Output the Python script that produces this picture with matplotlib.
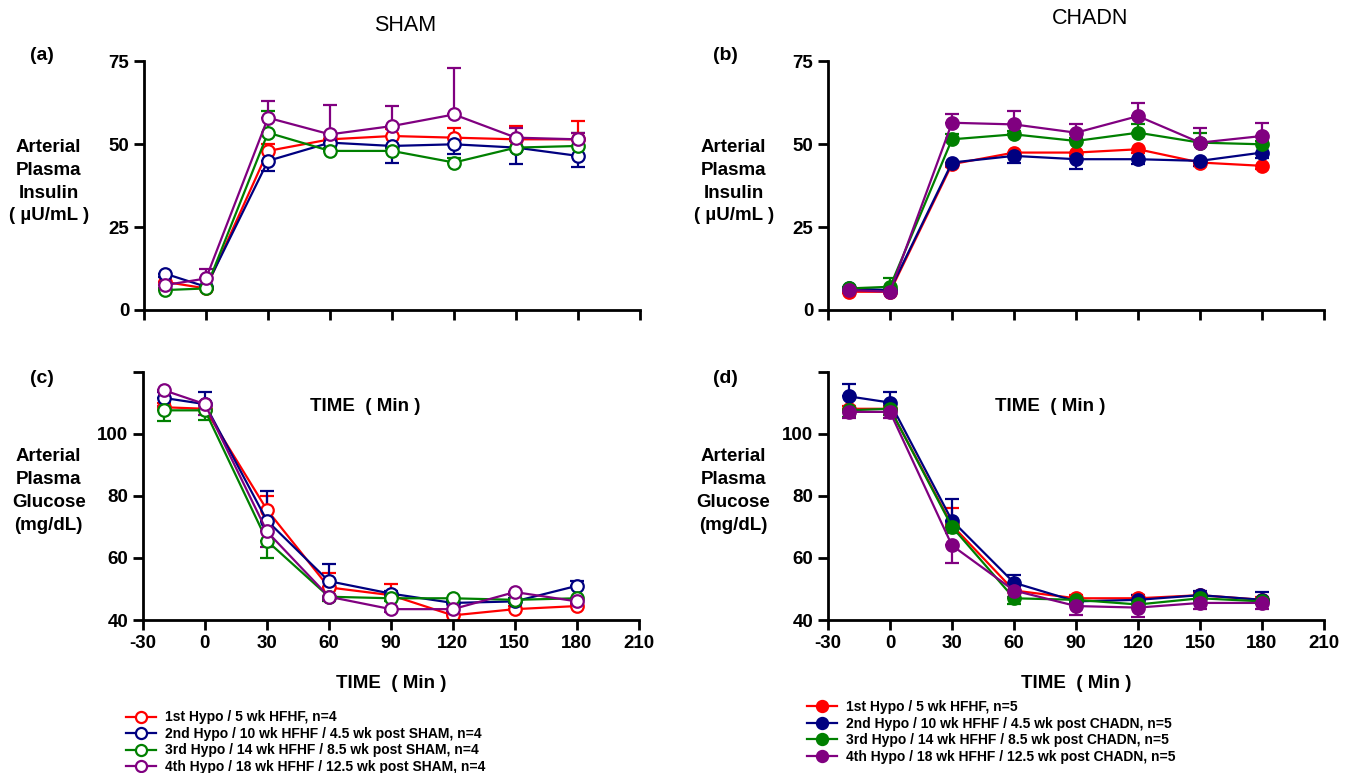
"""Insulin and glucose during hypoglycemic clamps, SHAM vs CHADN"""

import matplotlib
matplotlib.use('Agg')
import matplotlib.pyplot as plt
from matplotlib.lines import Line2D
import numpy as np

plt.rcParams['font.family'] = ['Liberation Sans', 'DejaVu Sans']
plt.rcParams['font.weight'] = 'bold'
plt.rcParams['axes.unicode_minus'] = False

time_min = [-20, 0, 30, 60, 90, 120, 150, 180]
colors = ['#ff0000', '#000080', '#008000', '#800080']

sham_labels = ['1st Hypo / 5 wk HFHF, n=4',
               '2nd Hypo / 10 wk HFHF / 4.5 wk post SHAM, n=4',
               '3rd Hypo / 14 wk HFHF / 8.5 wk post SHAM, n=4',
               '4th Hypo / 18 wk HFHF / 12.5 wk post SHAM, n=4']
chadn_labels = ['1st Hypo / 5 wk HFHF, n=5',
                '2nd Hypo / 10 wk HFHF / 4.5 wk post CHADN, n=5',
                '3rd Hypo / 14 wk HFHF / 8.5 wk post CHADN, n=5',
                '4th Hypo / 18 wk HFHF / 12.5 wk post CHADN, n=5']

# SHAM insulin (uU/mL)
sham_ins = [[8.5, 6.5, 48, 51.5, 52.5, 52, 51.5, 51.5],
            [11, 7, 45, 50.5, 49.5, 50, 49, 46.5],
            [6, 6.5, 53.5, 48, 48, 44.5, 49, 49.5],
            [7.5, 9.5, 58, 53, 55.5, 59, 52, 51.5]]
sham_ins_sem = [[1.5, 0.5, 2, 2, 2, 3, 4, 5.5],
                [1, 0.5, 3, 2, 5, 3, 5, 3.5],
                [0.5, 0.5, 6.5, 1, 1, 1.5, 2, 4],
                [1, 3, 5, 9, 6, 14, 3, 2]]
sham_ins_side = ['up', 'down', 'up', 'up']

# SHAM glucose (mg/dL)
sham_glu = [[108.5, 108, 75.5, 50.5, 48, 41.5, 43.5, 44.5],
            [111.5, 109.5, 72, 52.5, 48.5, 45.5, 46, 51],
            [107.5, 107.5, 65.5, 47.5, 47, 47, 46.5, 47],
            [114, 109.5, 68.5, 47.5, 43.5, 43.5, 49, 46]]
sham_glu_sem = [[1.5, 1.5, 4.5, 4.5, 3.5, 1, 1, 1],
                [2, 4, 9.5, 5.5, 1, 1, 1, 1.5],
                [3.5, 3, 5.5, 1.5, 1, 1, 1, 1],
                [5, 3.5, 5, 1, 1, 1, 1, 1]]
sham_glu_side = ['up', 'up', 'down', 'down']

# CHADN insulin (uU/mL)
chadn_ins = [[5.5, 5.5, 44, 47.5, 47.5, 48.5, 44.5, 43.5],
             [6.5, 6, 44.5, 46.5, 45.5, 45.5, 45, 47.5],
             [6.5, 7, 51.5, 53, 51, 53.5, 50.5, 50],
             [6, 5.5, 56.5, 56, 53.5, 58.5, 50.5, 52.5]]
chadn_ins_sem = [[0.5, 0.5, 1, 1, 1, 1, 1, 1],
                 [0.5, 0.5, 1, 2, 3, 1.5, 1.5, 1.5],
                 [0.5, 2.5, 1.5, 1, 1, 2.5, 3, 1],
                 [0.5, 0.5, 2.5, 4, 2.5, 4, 4.5, 4]]
chadn_ins_side = ['down', 'down', 'up', 'up']

# CHADN glucose (mg/dL)
chadn_glu = [[108, 108, 70.5, 49.5, 47, 47, 48, 46.5],
             [112, 110, 72, 52, 46, 46.5, 48, 46.5],
             [107.5, 108, 70, 47, 46.5, 45, 47, 46],
             [107, 107, 64, 49.5, 44.5, 44, 45.5, 45.5]]
chadn_glu_sem = [[1, 1, 5.5, 1.5, 1, 1, 1, 1],
                 [4, 3.5, 7, 2.5, 1.5, 1.5, 1.5, 2.5],
                 [2, 2, 2, 2, 1, 1, 1, 1],
                 [2, 2, 5.5, 2, 3, 3, 2, 2]]
chadn_glu_side = ['up', 'up', 'down', 'down']


def draw_panel(ax, series, sems, sides, labels, filled):
    for vals, sem, side, col, lab in zip(series, sems, sides, colors, labels):
        sem = np.array(sem)
        zero = np.zeros_like(sem)
        yerr = [zero, sem] if side == 'up' else [sem, zero]
        ax.errorbar(time_min, vals, yerr=yerr, color=col, lw=1.6,
                    marker='o', ms=9, mew=1.6,
                    mfc=col if filled else 'white', mec=col,
                    capsize=5, elinewidth=1.6, capthick=1.6, label=lab)
    ax.set_xlim(-30, 210)
    ax.set_xticks(range(-30, 211, 30))
    for side in ['top', 'right']:
        ax.spines[side].set_visible(False)
    for side in ['left', 'bottom']:
        ax.spines[side].set_linewidth(2)
    ax.tick_params(width=2, length=7, labelsize=13.5)


def legend_handles(filled):
    return [Line2D([], [], color=c, lw=1.6, marker='o', ms=8, mew=1.6,
                   mec=c, mfc=c if filled else 'white') for c in colors]


fig = plt.figure(figsize=(13.51, 7.73), dpi=100)
w, h = 0.3671, 0.3215
ax_a = fig.add_axes([0.1066, 0.5990, w, h])
ax_b = fig.add_axes([0.6129, 0.5990, w, h])
ax_c = fig.add_axes([0.1058, 0.1979, w, h])
ax_d = fig.add_axes([0.6129, 0.1979, w, h])

draw_panel(ax_a, sham_ins, sham_ins_sem, sham_ins_side, sham_labels, False)
draw_panel(ax_c, sham_glu, sham_glu_sem, sham_glu_side, sham_labels, False)
draw_panel(ax_b, chadn_ins, chadn_ins_sem, chadn_ins_side, chadn_labels, True)
draw_panel(ax_d, chadn_glu, chadn_glu_sem, chadn_glu_side, chadn_labels, True)

for ax in (ax_a, ax_b):
    ax.set_ylim(0, 75)
    ax.set_yticks([0, 25, 50, 75])
    ax.set_xticklabels([])
for ax in (ax_c, ax_d):
    ax.set_ylim(40, 120)
    ax.set_yticks([40, 60, 80, 100, 120])
    ax.set_yticklabels(['40', '60', '80', '100', ''])
    ax.set_xlabel('TIME  ( Min )', fontsize=13.5, fontweight='bold', labelpad=17)

ins_label = 'Arterial\nPlasma\nInsulin\n( \u00b5U/mL )'
glu_label = 'Arterial\nPlasma\nGlucose\n(mg/dL)'
for x, y, txt in [(0.036, 0.765, ins_label), (0.543, 0.765, ins_label),
                  (0.036, 0.365, glu_label), (0.543, 0.365, glu_label)]:
    fig.text(x, y, txt, ha='center', va='center', fontsize=13.5,
             fontweight='bold', linespacing=1.45)

# misplaced x labels of the top panels
fig.text(0.270, 0.474, 'TIME  ( Min )', ha='center', va='center',
         fontsize=13.5, fontweight='bold')
fig.text(0.777, 0.474, 'TIME  ( Min )', ha='center', va='center',
         fontsize=13.5, fontweight='bold')

fig.text(0.300, 0.967, 'SHAM', ha='center', va='center', fontsize=15.5,
         fontweight='normal')
fig.text(0.807, 0.976, 'CHADN', ha='center', va='center', fontsize=15.5,
         fontweight='normal')

for lab, x, y in [('(a)', 0.031, 0.928), ('(b)', 0.537, 0.928),
                  ('(c)', 0.031, 0.510), ('(d)', 0.537, 0.510)]:
    fig.text(x, y, lab, ha='center', va='center', fontsize=14, fontweight='bold')

fig.legend(handles=legend_handles(False), labels=sham_labels, loc='upper left',
           bbox_to_anchor=(0.088, 0.090), frameon=False, fontsize=10,
           handlelength=2.2, handletextpad=0.6, labelspacing=0.18,
           borderpad=0)
fig.legend(handles=legend_handles(True), labels=chadn_labels, loc='upper left',
           bbox_to_anchor=(0.592, 0.103), frameon=False, fontsize=10,
           handlelength=2.2, handletextpad=0.6, labelspacing=0.18,
           borderpad=0)

fig.savefig('out.png', dpi=100)
